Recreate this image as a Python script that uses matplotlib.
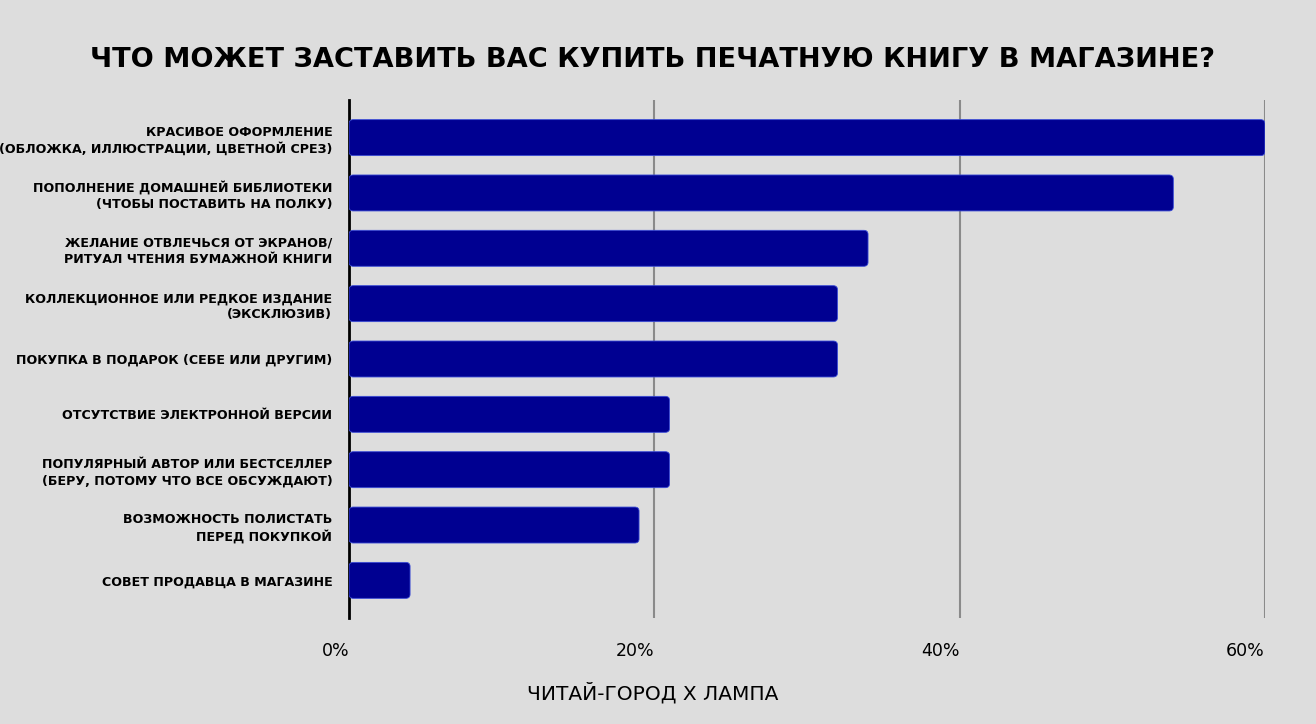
import matplotlib.pyplot as plt
from matplotlib.patches import FancyBboxPatch

plt.rcParams['font.family'] = ['DejaVu Sans']

title = "ЧТО МОЖЕТ ЗАСТАВИТЬ ВАС КУПИТЬ ПЕЧАТНУЮ КНИГУ В МАГАЗИНЕ?"
source = "ЧИТАЙ-ГОРОД Х ЛАМПА"

categories = [
    "КРАСИВОЕ ОФОРМЛЕНИЕ\n(ОБЛОЖКА, ИЛЛЮСТРАЦИИ, ЦВЕТНОЙ СРЕЗ)",
    "ПОПОЛНЕНИЕ ДОМАШНЕЙ БИБЛИОТЕКИ\n(ЧТОБЫ ПОСТАВИТЬ НА ПОЛКУ)",
    "ЖЕЛАНИЕ ОТВЛЕЧЬСЯ ОТ ЭКРАНОВ/\nРИТУАЛ ЧТЕНИЯ БУМАЖНОЙ КНИГИ",
    "КОЛЛЕКЦИОННОЕ ИЛИ РЕДКОЕ ИЗДАНИЕ\n(ЭКСКЛЮЗИВ)",
    "ПОКУПКА В ПОДАРОК (СЕБЕ ИЛИ ДРУГИМ)",
    "ОТСУТСТВИЕ ЭЛЕКТРОННОЙ ВЕРСИИ",
    "ПОПУЛЯРНЫЙ АВТОР ИЛИ БЕСТСЕЛЛЕР\n(БЕРУ, ПОТОМУ ЧТО ВСЕ ОБСУЖДАЮТ)",
    "ВОЗМОЖНОСТЬ ПОЛИСТАТЬ\nПЕРЕД ПОКУПКОЙ",
    "СОВЕТ ПРОДАВЦА В МАГАЗИНЕ",
]
values = [60, 54, 34, 32, 32, 21, 21, 19, 4]
xticks = [0, 20, 40, 60]
xtick_labels = ["0%", "20%", "40%", "60%"]

bg = "#dddddd"
bar_color = "#000091"

fig = plt.figure(figsize=(13.16, 7.24), dpi=100, facecolor=bg)
ax = fig.add_axes([0.2652, 0.1464, 0.6960, 0.7155], facecolor=bg)

ypos = list(range(len(values)))
bars = ax.barh(ypos, values, height=0.65, color=bar_color)
# swap plain rectangles for slightly rounded ones
for b in bars:
    b.set_visible(False)
    p = FancyBboxPatch((b.get_x(), b.get_y()), b.get_width(), b.get_height(),
                       boxstyle="round,pad=0,rounding_size=0.28",
                       mutation_aspect=0.26, facecolor=bar_color,
                       edgecolor="#3a4bd6", linewidth=0.6, zorder=3)
    ax.add_patch(p)

ax.set_xlim(0, 60)
ax.set_ylim(len(values) - 0.32, -0.68)

ax.set_xticks(xticks)
ax.set_xticklabels(xtick_labels, fontsize=12.5, ha="right")
ax.set_yticks(ypos)
ax.set_yticklabels(categories, fontsize=9.1, fontweight="bold", linespacing=1.3)
ax.tick_params(axis="x", length=0, pad=17)
ax.tick_params(axis="y", length=0, pad=12)

for s in ["top", "right", "bottom"]:
    ax.spines[s].set_visible(False)
ax.spines["left"].set_linewidth(2)
ax.spines["left"].set_color("black")

ax.grid(axis="x", color="#8a8a8a", linewidth=1.5)
ax.set_axisbelow(True)

fig.text(0.496, 0.917, title, ha="center", va="center", fontsize=19.6, fontweight="bold")
fig.text(0.496, 0.043, source, ha="center", va="center", fontsize=14.5)

fig.savefig("out.png", dpi=100, facecolor=bg)
